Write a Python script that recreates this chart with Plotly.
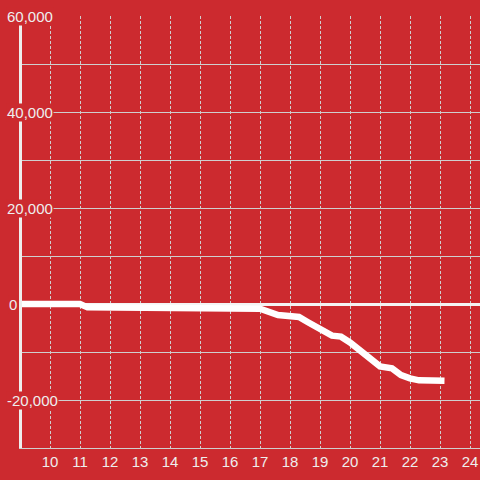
import plotly.graph_objects as go

hours = [9.0, 11.0, 11.25, 15.0, 15.15, 17.0, 17.6, 18.1, 18.3, 18.6, 19.0, 19.4, 19.7,
         20.0, 20.5, 21.0, 21.4, 21.7, 22.0, 22.3, 23.15]
values = [0, 0, -700, -700, -950, -1000, -2300, -2400, -2700, -3800, -5300, -6600, -6800,
          -8000, -10500, -13000, -13400, -14800, -15500, -15900, -16000]
x_ticks = list(range(10, 25))
y_label_values = [60000, 40000, 20000, 0, -20000]
y_labels = ["60,000", "40,000", "20,000", "0", "-20,000"]

BG = "#cc2a2f"
TXT = "#eeeeee"
GRID = "#cfcfcf"
FONT = "Liberation Sans, Arial, sans-serif"

fig = go.Figure()
fig.add_trace(go.Scatter(
    x=hours, y=values, mode="lines",
    line=dict(color="#ffffff", width=6.5),
    hoverinfo="skip", showlegend=False,
))

annotations = []
for v, t in zip(y_label_values, y_labels):
    annotations.append(dict(
        x=0, xref="paper", xshift=(-14 if t == "0" else -16), xanchor="left",
        y=v, yref="y", yanchor="middle",
        text=t, showarrow=False,
        font=dict(family=FONT, size=15, color=TXT),
        bgcolor=BG, borderpad=0,
    ))

fig.update_layout(
    width=480, height=480,
    margin=dict(l=22, r=0, t=16, b=32),
    paper_bgcolor=BG, plot_bgcolor=BG,
    font=dict(family=FONT, size=15, color=TXT),
    annotations=annotations,
    hovermode=False,
    xaxis=dict(
        range=[9.0667, 24.3333],
        tickmode="array", tickvals=x_ticks, ticktext=[str(v) for v in x_ticks],
        showgrid=True, gridcolor=GRID, gridwidth=1, griddash="3px,2px",
        zeroline=False, ticks="", automargin=False,
        showline=True, linecolor=GRID, linewidth=1,
        tickfont=dict(family=FONT, size=15, color=TXT),
    ),
    yaxis=dict(
        range=[-30000, 60000],
        tick0=0, dtick=10000,
        showgrid=True, gridcolor=GRID, gridwidth=1,
        zeroline=True, zerolinecolor="#f4f4f4", zerolinewidth=3,
        showticklabels=False, ticks="", automargin=False,
        showline=True, linecolor="#eeeeee", linewidth=3,
    ),
)

fig.write_html("out.html", config={"displayModeBar": False},
               post_script="document.body.style.margin='0px';")
